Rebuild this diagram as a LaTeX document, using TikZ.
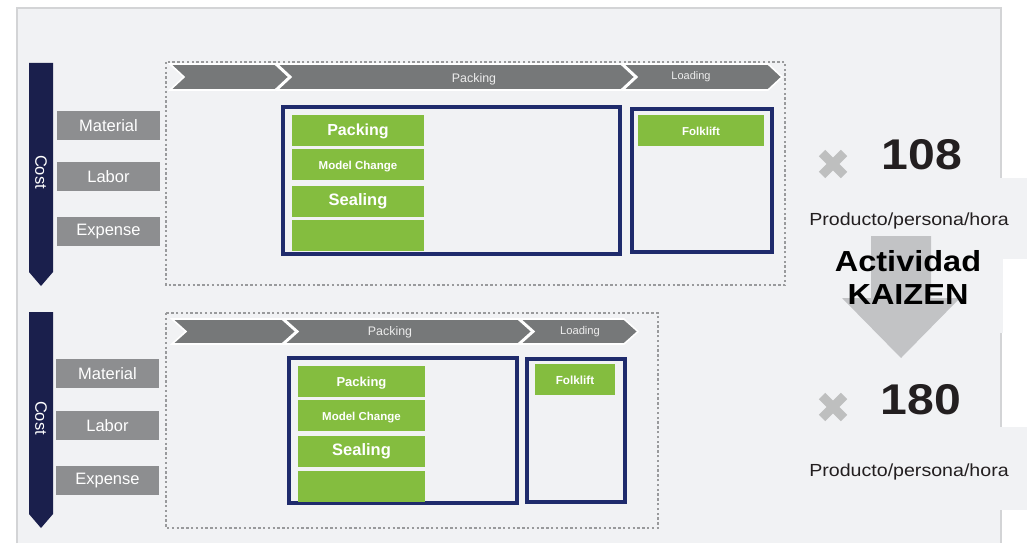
\documentclass[tikz,border=0pt]{standalone}
\usepackage{fontspec}
\setmainfont{Liberation Sans}
\newfontfamily\widefont[FakeStretch=1.12]{Liberation Sans}
\usetikzlibrary{positioning}

\definecolor{panelbg}{HTML}{F1F2F4}
\definecolor{panelline}{HTML}{D3D4D6}
\definecolor{patchbg}{HTML}{F1F2F4}
\definecolor{costnavy}{HTML}{1A1F4C}
\definecolor{boxnavy}{HTML}{1F2B6C}
\definecolor{labelgray}{HTML}{8D8E90}
\definecolor{chevgray}{HTML}{767879}
\definecolor{stepgreen}{HTML}{84BD3F}
\definecolor{dotgray}{HTML}{999A9C}
\definecolor{crossgray}{HTML}{BEBFBF}
\definecolor{arrowgray}{HTML}{C2C3C5}
\definecolor{darktext}{HTML}{231F20}

\begin{document}
\begin{tikzpicture}[
    x=1pt, y=-1pt,
    costlbl/.style={fill=labelgray, text=white, minimum width=103pt, minimum height=29pt,
      inner sep=0pt, font=\fontsize{16.5}{18}\selectfont},
    costbar/.style={fill=costnavy},
    costtxt/.style={text=white, rotate=-90, font=\fontsize{16.5}{18}\selectfont},
    dotbox/.style={draw=dotgray, line width=2.6pt, dash pattern=on 2.4pt off 2.4pt},
    chev/.style={fill=chevgray, draw=white, line width=1.6pt, line join=miter},
    chevtxt/.style={text=white!93!black, inner sep=0pt, font=\fontsize{12.4}{14}\selectfont},
    areabox/.style={draw=boxnavy, line width=3.2pt},
    stepbox/.style={fill=stepgreen, text=white, inner sep=0pt, minimum height=31pt,
      text height=0.9em, text depth=0pt, font=\bfseries\fontsize{16}{18}\selectfont},
    xmark/.style={draw=crossgray, line width=9pt},
    rate/.style={text=darktext, inner sep=0pt, font=\widefont\bfseries\fontsize{43}{45}\selectfont},
    unit/.style={text=darktext, inner sep=0pt, font=\widefont\fontsize{17.5}{20}\selectfont},
    kaizen/.style={text=black, align=center, inner sep=0pt,
      font=\widefont\bfseries\fontsize{29}{33}\selectfont}
  ]
    \useasboundingbox (0,0) rectangle (1027,543);
    \fill[panelbg] (17,8) rectangle (1001,543);
    \draw[panelline, line width=1.2pt] (17,543) -- (17,8) -- (1001,8) -- (1001,543);
    \fill[patchbg] (805,178) rectangle (1027,259);
    \fill[patchbg] (805,427) rectangle (1027,510);
    \fill[patchbg] (817,235) rectangle (1003,333);

    % before: current line
    \fill[costbar] (29,63) -- (53,63) -- (53,272) -- (41,286) -- (29,272) -- cycle;
    \node[costtxt] (cost1) at (41,172) {Cost};
    \node[costlbl] (mat1) at (108.5,125.5) {Material};
    \node[costlbl, below=22pt of mat1] (lab1) {Labor};
    \node[costlbl, below=25pt of lab1] (exp1) {Expense};

    \draw[dotbox] (166,62) rectangle (785,285);
    \filldraw[chev] (170,64) -- (275,64) -- (289,77) -- (275,90) -- (170,90) -- (184,77) -- cycle;
    \filldraw[chev] (277,64) -- (621,64) -- (635,77) -- (621,90) -- (277,90) -- (291,77) -- cycle;
    \filldraw[chev] (623,64) -- (768,64) -- (782,77) -- (768,90) -- (623,90) -- (637,77) -- cycle;
    \node[chevtxt] (pk1) at (474,79) {Packing};
    \node[chevtxt, font=\fontsize{11}{13}\selectfont] (ld1) at (691,76.5) {Loading};

    \draw[areabox] (283,107) rectangle (620,254);
    \draw[areabox] (632,109) rectangle (772,252);
    \node[stepbox, minimum width=132pt] (pack1) at (358,130.5) {Packing};
    \node[stepbox, minimum width=132pt, below=3pt of pack1,
      font=\bfseries\fontsize{11.5}{13}\selectfont] (model1) {Model Change};
    \node[stepbox, minimum width=132pt, below=5pt of model1, font=\bfseries\fontsize{16.5}{18}\selectfont] (seal1) {Sealing};
    \node[stepbox, minimum width=132pt, below=3pt of seal1] (blank1) {};
    \node[stepbox, minimum width=126pt, font=\bfseries\fontsize{11.5}{13}\selectfont] (fork1) at (701,130.5) {Folklift};

    % after: improved line
    \fill[costbar] (29,312) -- (53,312) -- (53,514) -- (41,528) -- (29,514) -- cycle;
    \node[costtxt] (cost2) at (41,418) {Cost};
    \node[costlbl] (mat2) at (107.5,373.5) {Material};
    \node[costlbl, below=23pt of mat2] (lab2) {Labor};
    \node[costlbl, below=25pt of lab2] (exp2) {Expense};

    \draw[dotbox] (166,313) rectangle (658,528);
    \filldraw[chev] (172,319) -- (282,319) -- (296,331.5) -- (282,344) -- (172,344) -- (186,331.5) -- cycle;
    \filldraw[chev] (284,319) -- (518,319) -- (532,331.5) -- (518,344) -- (284,344) -- (298,331.5) -- cycle;
    \filldraw[chev] (520,319) -- (624,319) -- (638,331.5) -- (624,344) -- (520,344) -- (534,331.5) -- cycle;
    \node[chevtxt] (pk2) at (390,332) {Packing};
    \node[chevtxt, font=\fontsize{11.2}{13}\selectfont] (ld2) at (580,331.5) {Loading};

    \draw[areabox] (289,358) rectangle (517,503);
    \draw[areabox] (527,359) rectangle (625,502);
    \node[stepbox, minimum width=127pt, font=\bfseries\fontsize{13}{15}\selectfont] (pack2) at (361.5,381.5) {Packing};
    \node[stepbox, minimum width=127pt, below=3pt of pack2,
      font=\bfseries\fontsize{11.5}{13}\selectfont] (model2) {Model Change};
    \node[stepbox, minimum width=127pt, below=4pt of model2, font=\bfseries\fontsize{16.5}{18}\selectfont] (seal2) {Sealing};
    \node[stepbox, minimum width=127pt, below=4pt of seal2] (blank2) {};
    \node[stepbox, minimum width=80pt, font=\bfseries\fontsize{11.7}{13}\selectfont] (fork2) at (575,379.5) {Folklift};

    % productivity
    \fill[arrowgray] (871,236) -- (931,236) -- (931,298) -- (960,298) -- (901,358)
      -- (842,298) -- (871,298) -- cycle;
    \node[kaizen] (kz) at (908,277) {Actividad\\KAIZEN};

    \draw[xmark] (822,153) -- (844,175) (844,153) -- (822,175);
    \node[rate] (r1) at (922,155) {108};
    \node[unit] (u1) at (909,221) {Producto/persona/hora};
    \draw[xmark] (822,396) -- (844,418) (844,396) -- (822,418);
    \node[rate] (r2) at (921,400) {180};
    \node[unit] (u2) at (909,472) {Producto/persona/hora};
  \end{tikzpicture}
\end{document}
